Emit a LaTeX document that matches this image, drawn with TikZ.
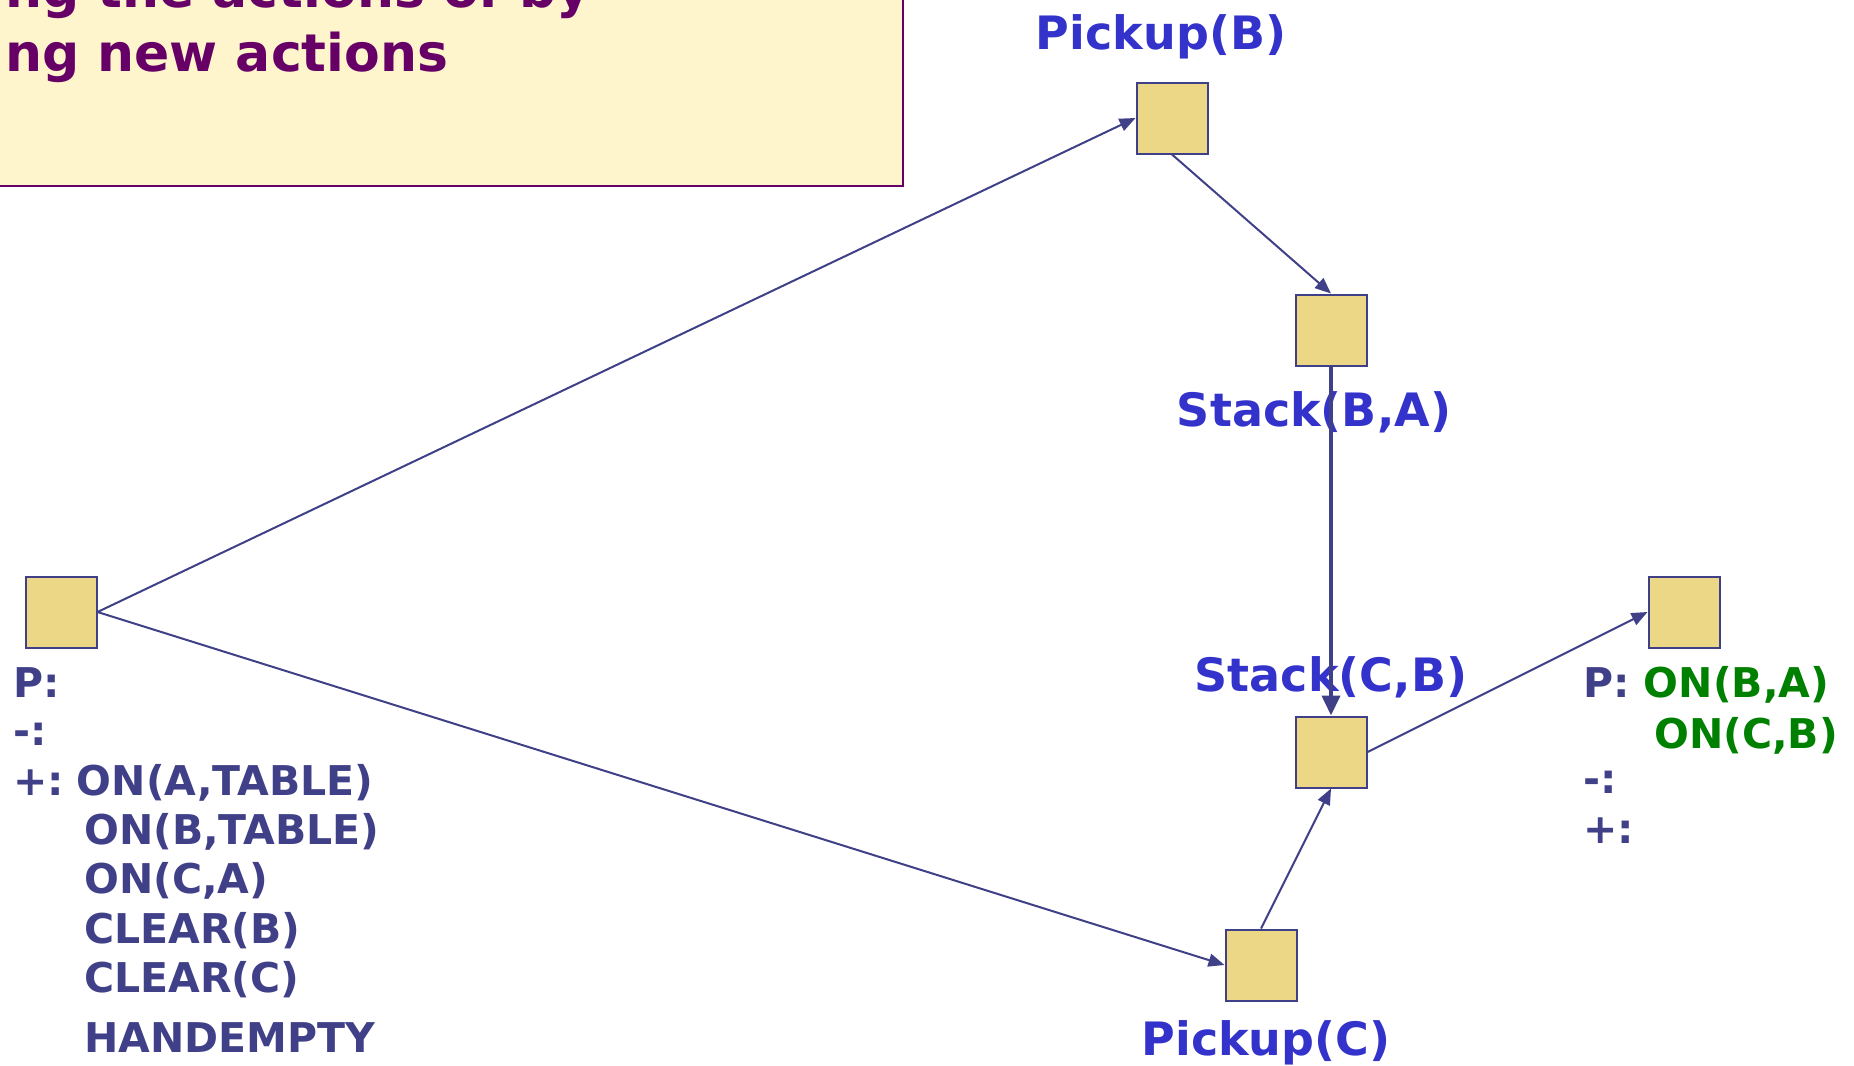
\documentclass[tikz,border=0pt]{standalone}
\usepackage{fontspec}
\setmainfont{DejaVu Sans}
\usetikzlibrary{arrows.meta}
\definecolor{trait}{HTML}{404088}
\definecolor{fond}{HTML}{EBD785}
\definecolor{nom}{HTML}{3333CC}
\definecolor{vert}{HTML}{008000}
\definecolor{prune}{HTML}{660066}
\definecolor{creme}{HTML}{FFF5CC}
\begin{document}
\begin{tikzpicture}[x=1pt,y=-1pt]
% Définition des styles
\tikzset{
etat/.style={draw=trait, line width=2pt, fill=fond, rectangle, minimum size=71pt, inner sep=0pt},
action/.style={text=nom, font=\bfseries\fontsize{46}{55}\selectfont, anchor=base, inner sep=0pt},
liste/.style={text=trait, font=\bfseries\fontsize{41}{49}\selectfont, anchor=base west, inner sep=0pt},
fleche/.style={draw=trait, line width=2pt, -{Triangle[length=16pt,width=13pt]}}
}
\useasboundingbox (0,0) rectangle (1854,1065);
% Cadre du titre
\draw[prune, line width=2pt, fill=creme] (-10,-10) rectangle (903,186);
\node[text=prune, font=\bfseries\fontsize{52}{62}\selectfont, anchor=base west, inner sep=0pt] (titre1) at (5,8) {ng the actions of by};
\node[text=prune, font=\bfseries\fontsize{52}{62}\selectfont, anchor=base west, inner sep=0pt] (titre2) at (5,71) {ng new actions};
% Etats
\node[etat] (init) at (61,612) {};
\node[etat] (pickupB) at (1172,118) {};
\node[etat] (stackBA) at (1331,330) {};
\node[etat] (stackCB) at (1331,752) {};
\node[etat] (pickupC) at (1261,965) {};
\node[etat] (fin) at (1684,612) {};
% Noms des actions
\node[action] (nomPB) at (1161,50) {Pickup(B)};
\node[action] (nomSBA) at (1314,426) {Stack(B,A)};
\node[action] (nomSCB) at (1331,691) {Stack(C,B)};
\node[action] (nomPC) at (1266,1055) {Pickup(C)};
% Liens
\draw[fleche] (init.east) -- (pickupB.west);
\draw[fleche] (init.east) -- (pickupC.west);
\draw[fleche] (pickupB.south) -- (stackBA.north);
\draw[fleche, line width=4pt, -{Triangle[length=20pt,width=18pt]}] (stackBA.south) -- (stackCB.north);
\draw[fleche] (pickupC.north) -- (stackCB.south);
\draw[fleche] (stackCB.east) -- (fin.west);
% Etat initial
\node[liste] (iP) at (13,697) {P:};
\node[liste] (iM) at (13,745) {-:};
\node[liste] (iA) at (13,795) {+:\hspace{13pt}ON(A,TABLE)};
\node[liste] (i2) at (84,844) {ON(B,TABLE)};
\node[liste] (i3) at (84,893) {ON(C,A)};
\node[liste] (i4) at (84,943) {CLEAR(B)};
\node[liste] (i5) at (84,992) {CLEAR(C)};
\node[liste] (i6) at (84,1052) {HANDEMPTY};
% Etat final
\node[liste] (fP) at (1583,697) {P: \textcolor{vert}{ON(B,A)}};
\node[liste, text=vert] (f2) at (1654,748) {ON(C,B)};
\node[liste] (fM) at (1583,793) {-:};
\node[liste] (fA) at (1583,843) {+:};
\end{tikzpicture}
\end{document}
